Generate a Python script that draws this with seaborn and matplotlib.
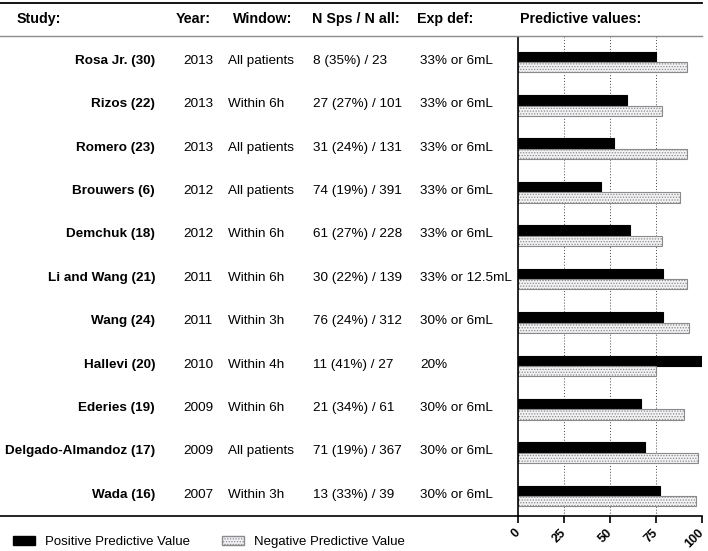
import pandas as pd
import matplotlib.pyplot as plt
import matplotlib.transforms as mtransforms
from matplotlib.patches import Patch
from matplotlib.lines import Line2D
import seaborn as sns

# Table data, one entry per study (top to bottom)
studies = ["Rosa Jr. (30)", "Rizos (22)", "Romero (23)", "Brouwers (6)", "Demchuk (18)",
           "Li and Wang (21)", "Wang (24)", "Hallevi (20)", "Ederies (19)",
           "Delgado-Almandoz (17)", "Wada (16)"]
years = ["2013", "2013", "2013", "2012", "2012", "2011", "2011", "2010", "2009", "2009", "2007"]
windows = ["All patients", "Within 6h", "All patients", "All patients", "Within 6h",
           "Within 6h", "Within 3h", "Within 4h", "Within 6h", "All patients", "Within 3h"]
n_sps = ["8 (35%) / 23", "27 (27%) / 101", "31 (24%) / 131", "74 (19%) / 391", "61 (27%) / 228",
         "30 (22%) / 139", "76 (24%) / 312", "11 (41%) / 27", "21 (34%) / 61",
         "71 (19%) / 367", "13 (33%) / 39"]
exp_def = ["33% or 6mL", "33% or 6mL", "33% or 6mL", "33% or 6mL", "33% or 6mL",
           "33% or 12.5mL", "30% or 6mL", "20%", "30% or 6mL", "30% or 6mL", "30% or 6mL"]

# Predictive values (%)
ppv = [75, 59, 52, 45, 61, 79, 79, 100, 67, 69, 77]
npv = [92, 78, 92, 88, 78, 92, 93, 75, 90, 98, 97]

series = ["Positive Predictive Value", "Negative Predictive Value"]

df = pd.DataFrame({
    "study": studies * 2,
    "value": ppv + npv,
    "type": [series[0]] * len(studies) + [series[1]] * len(studies),
})

plt.rcParams["font.family"] = ["Liberation Sans", "DejaVu Sans"]
plt.rcParams["hatch.linewidth"] = 0.6

W, H = 708, 551
fig = plt.figure(figsize=(W / 100, H / 100), dpi=100)
ax = fig.add_axes([518 / W, 1 - 516 / H, (702 - 518) / W, (516 - 37) / H])

sns.barplot(data=df, y="study", x="value", hue="type", order=studies, hue_order=series,
            palette=["black", "#f1f1f6"], orient="h", width=0.48, gap=0.02,
            edgecolor="black", linewidth=0.8, legend=False, ax=ax)

# Dotted fill for the NPV bars
n = len(studies)
for i, bar in enumerate(ax.patches[:2 * n]):
    if i >= n:
        bar.set_hatch("......")
        bar.set_edgecolor("#8a8a8a")

ax.set_xlim(0, 100)
ax.set_ylim(n - 0.54, -0.576)
ax.set_xticks([0, 25, 50, 75, 100])
ax.set_xticklabels(["0", "25", "50", "75", "100"], rotation=45, ha="right", va="center",
                   rotation_mode="anchor", fontweight="bold", fontsize=9)
shift = mtransforms.ScaledTranslation(-3 / 100, 0, fig.dpi_scale_trans)
for lab in ax.get_xticklabels():
    lab.set_transform(lab.get_transform() + shift)
ax.set_yticks([])
ax.set_xlabel("")
ax.set_ylabel("")
ax.tick_params(axis="x", length=5, width=1.2, pad=6)
for x in [25, 50, 75]:
    ax.axvline(x, color="#444444", linestyle=(0, (1, 2)), linewidth=0.7, zorder=0)
ax.spines["top"].set_visible(False)
ax.spines["right"].set_visible(False)
ax.spines["left"].set_linewidth(1.2)
ax.spines["bottom"].set_linewidth(1.2)

# Table text on the left, rows aligned with the bar groups
trans = mtransforms.blended_transform_factory(fig.transFigure, ax.transData)
fs = 9.7
for i in range(n):
    yy = i - 0.03
    fig.text(155 / W, yy, studies[i], transform=trans, ha="right", va="center",
             fontsize=fs, fontweight="bold")
    fig.text(198 / W, yy, years[i], transform=trans, ha="center", va="center", fontsize=fs)
    fig.text(228 / W, yy, windows[i], transform=trans, ha="left", va="center", fontsize=fs)
    fig.text(313 / W, yy, n_sps[i], transform=trans, ha="left", va="center", fontsize=fs)
    fig.text(420 / W, yy, exp_def[i], transform=trans, ha="left", va="center", fontsize=fs)

# Header row
hy = 1 - 19 / H
hs = 10.3
fig.text(17 / W, hy, "Study:", ha="left", va="center", fontsize=hs, fontweight="bold")
fig.text(193 / W, hy, "Year:", ha="center", va="center", fontsize=hs, fontweight="bold")
fig.text(263 / W, hy, "Window:", ha="center", va="center", fontsize=hs, fontweight="bold")
fig.text(356 / W, hy, "N Sps / N all:", ha="center", va="center", fontsize=hs, fontweight="bold")
fig.text(417 / W, hy, "Exp def:", ha="left", va="center", fontsize=hs, fontweight="bold")
fig.text(520 / W, hy, "Predictive values:", ha="left", va="center", fontsize=hs, fontweight="bold")

# Table rules
fig.add_artist(Line2D([0, 702 / W], [1 - 3 / H] * 2, color="black", linewidth=1.3))
fig.add_artist(Line2D([0, 702 / W], [1 - 36 / H] * 2, color="#8c8c8c", linewidth=1.0))
fig.add_artist(Line2D([0, 518 / W], [1 - 516 / H] * 2, color="black", linewidth=1.2))

# Legend at the bottom
handles = [Patch(facecolor="black", edgecolor="black"),
           Patch(facecolor="#f1f1f6", edgecolor="#8a8a8a", hatch="......")]
fig.legend(handles, series, loc="center left", bbox_to_anchor=(1 / W, 9 / H), ncol=2,
           frameon=False, fontsize=9.5, handlelength=1.7, handleheight=0.6,
           handletextpad=0.75, columnspacing=2.4)

fig.savefig("out.png", dpi=100)
